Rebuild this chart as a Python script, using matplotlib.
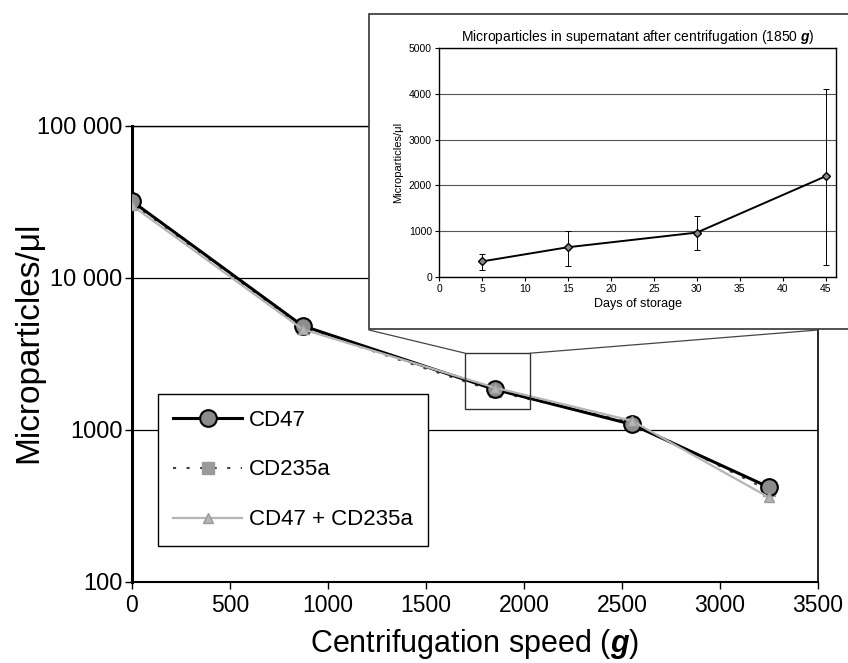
import numpy as np
import matplotlib
matplotlib.use("Agg")
import matplotlib.pyplot as plt
from matplotlib.patches import Rectangle, ConnectionPatch

# main chart: microparticles left in supernatant vs centrifugation speed
speed = [0, 870, 1850, 2550, 3250]
cd47 = [32000, 4850, 1850, 1090, 420]
cd235a = [31000, 4700, 1800, 1120, 400]
cd47_cd235a = [30000, 4600, 1900, 1150, 360]

y_ticks = [100, 1000, 10000, 100000]
y_tick_labels = ["100", "1000", "10 000", "100 000"]
x_ticks = [0, 500, 1000, 1500, 2000, 2500, 3000, 3500]

# inset: 1850 g supernatant over storage time
days = [5, 15, 30, 45]
mp_1850 = [340, 650, 970, 2200]
mp_low = [150, 230, 580, 270]
mp_high = [500, 1010, 1330, 4100]

# zoom box drawn around the 1850 g point
zoom_x = (1700, 2030)
zoom_y = (1370, 3200)

plt.rcParams["font.family"] = ["Liberation Sans", "DejaVu Sans"]
plt.rcParams["mathtext.fontset"] = "custom"
plt.rcParams["mathtext.bf"] = "Liberation Sans:bold:italic"
plt.rcParams["mathtext.rm"] = "Liberation Sans"

W, H = 848, 663
fig = plt.figure(figsize=(W / 100, H / 100), dpi=100)

# ---- main axes ----
ax = fig.add_axes([132 / W, 1 - 582 / H, (818 - 132) / W, (582 - 126) / H])
ax.set_yscale("log")
ax.set_xlim(0, 3500)
ax.set_ylim(100, 100000)

ax.plot(speed, cd235a, linestyle=(0, (1.5, 5)), color="#444444", lw=1.5,
        marker="s", ms=9, mfc="#9a9a9a", mec="#9a9a9a", label="CD235a", zorder=2)
ax.plot(speed, cd47, "-", color="black", lw=2.2, marker="o", ms=12,
        mfc="#8c8c8c", mec="black", mew=1.5, label="CD47", zorder=3)
ax.plot(speed, cd47_cd235a, "-", color="#b5b5b5", lw=1.6, marker="^", ms=7,
        mfc="#b5b5b5", mec="#9a9a9a", label="CD47 + CD235a", zorder=4)

ax.yaxis.set_major_locator(matplotlib.ticker.FixedLocator(y_ticks))
ax.yaxis.set_minor_locator(matplotlib.ticker.NullLocator())
ax.set_yticklabels(y_tick_labels)
ax.set_xticks(x_ticks)
ax.tick_params(axis="both", direction="out", length=5, width=1, colors="black")
ax.tick_params(axis="y", labelsize=17, pad=2)
ax.tick_params(axis="x", labelsize=16.5, pad=4)
ax.grid(axis="y", which="major", color="black", lw=0.9)

ax.spines["left"].set_linewidth(2.2)
ax.spines["bottom"].set_linewidth(1.5)
ax.spines["top"].set_linewidth(1.0)
ax.spines["right"].set_linewidth(1.2)

ax.set_xlabel(r"Centrifugation speed ($\mathbf{g}$)", fontsize=22, labelpad=7)
ax.set_ylabel("Microparticles/\u03bcl", fontsize=24)
ax.yaxis.set_label_coords((44 - 132) / 686, 0.525)

handles, labels = ax.get_legend_handles_labels()
order = [1, 0, 2]
leg = ax.legend([handles[i] for i in order], [labels[i] for i in order],
                loc="upper left", bbox_to_anchor=((157.5 - 132) / 686, (582 - 394) / 456),
                borderaxespad=0, fontsize=16, frameon=True, fancybox=False,
                edgecolor="black", framealpha=1, handlelength=3.1,
                handletextpad=0.3, labelspacing=1.3, borderpad=0.7)
leg.get_frame().set_linewidth(1.0)

ax.add_patch(Rectangle((zoom_x[0], zoom_y[0]), zoom_x[1] - zoom_x[0],
                       zoom_y[1] - zoom_y[0], fill=False, ec="#333333", lw=1, zorder=5))

# ---- inset frame and connectors ----
frame_box = (369 / W, 1 - 329 / H, 1.02 - 369 / W, (329 - 14) / H)
fig.add_artist(Rectangle(frame_box[:2], frame_box[2], frame_box[3],
                         transform=fig.transFigure, fc="white", ec="#333333",
                         lw=1.2, zorder=3))
for xa, xb in [(zoom_x[0], 369 / W), (zoom_x[1], 818 / W)]:
    con = ConnectionPatch(xyA=(xa, zoom_y[1]), coordsA=ax.transData,
                          xyB=(xb, 1 - 330 / H), coordsB=fig.transFigure,
                          color="#444444", lw=0.9, zorder=3)
    fig.add_artist(con)

# ---- inset axes ----
ax_in = fig.add_axes([439 / W, 1 - 277 / H, (836 - 439) / W, (277 - 48) / H], zorder=4)
ax_in.errorbar(days, mp_1850,
               yerr=[np.subtract(mp_1850, mp_low), np.subtract(mp_high, mp_1850)],
               fmt="-D", color="black", lw=1.4, ms=4.5, mfc="#888888", mec="black",
               elinewidth=0.7, capsize=2.5, capthick=0.7)
ax_in.set_xlim(0, 46.2)
ax_in.set_ylim(0, 5000)
ax_in.set_xticks(range(0, 50, 5))
ax_in.set_yticks(range(0, 6000, 1000))
ax_in.grid(axis="y", color="#555555", lw=0.8)
ax_in.set_axisbelow(True)
ax_in.tick_params(direction="out", length=3, width=0.8, labelsize=7.5, pad=2)
for s in ax_in.spines.values():
    s.set_linewidth(1.0)
ax_in.set_title(r"Microparticles in supernatant after centrifugation (1850 $\mathbf{g}$)",
                fontsize=10, pad=5)
ax_in.set_xlabel("Days of storage", fontsize=9, labelpad=3)
ax_in.set_ylabel("Microparticles/\u03bcl", fontsize=8, labelpad=4)

fig.savefig("out.png", dpi=100)
